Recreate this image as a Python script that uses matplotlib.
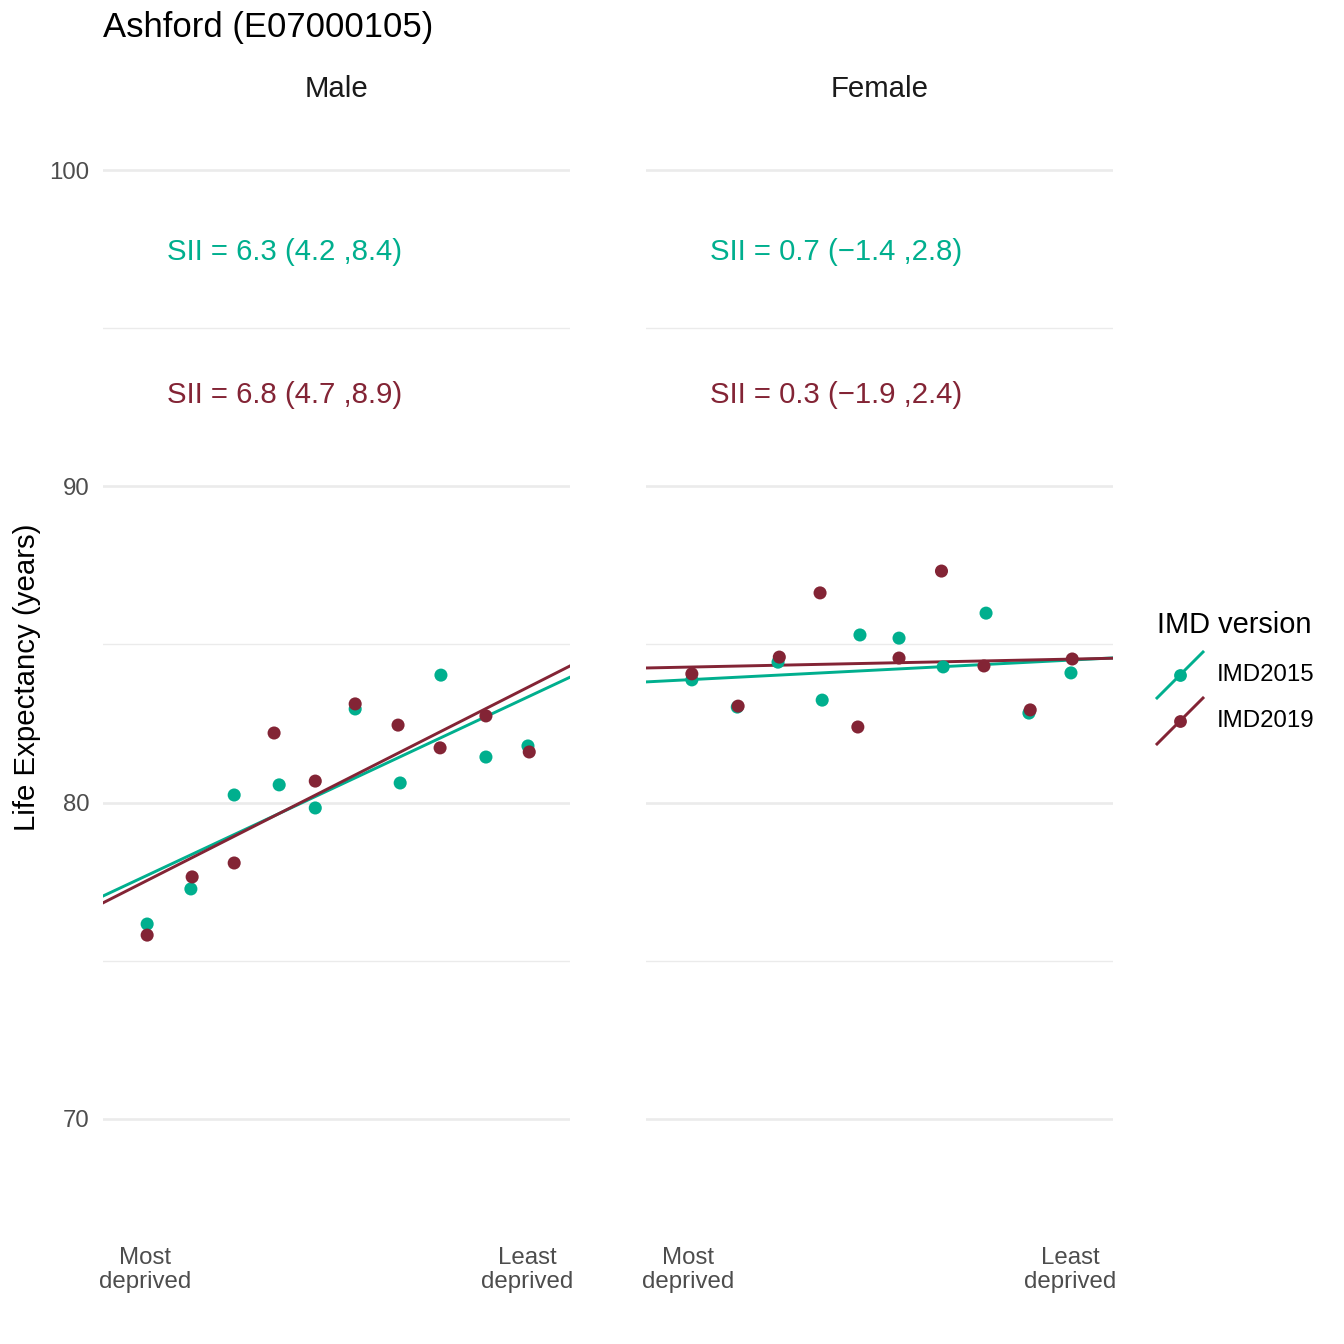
import matplotlib
matplotlib.use('Agg')
import matplotlib.pyplot as plt
from matplotlib.lines import Line2D

plt.rcParams['font.family'] = ['Liberation Sans', 'DejaVu Sans']

# --- data ---
sexes = ["Male", "Female"]
versions = ["IMD2015", "IMD2019"]
colours = {"IMD2015": "#00AF8E", "IMD2019": "#832435"}

# x = position on deprivation scale (0 = most deprived, 1 = least deprived)
male_x_2015 = [0.054, 0.157, 0.259, 0.365, 0.450, 0.544, 0.650, 0.746, 0.852, 0.951]
male_y_2015 = [76.16, 77.27, 80.24, 80.56, 79.83, 82.96, 80.62, 84.03, 81.44, 81.79]
male_x_2019 = [0.054, 0.160, 0.259, 0.353, 0.450, 0.544, 0.645, 0.744, 0.852, 0.954]
male_y_2019 = [75.81, 77.65, 78.09, 82.20, 80.68, 83.12, 82.45, 81.73, 82.74, 81.60]

female_x_2015 = [0.058, 0.165, 0.261, 0.365, 0.454, 0.546, 0.650, 0.751, 0.852, 0.951]
female_y_2015 = [83.88, 83.02, 84.44, 83.24, 85.30, 85.20, 84.29, 85.99, 82.83, 84.10]
female_x_2019 = [0.058, 0.167, 0.264, 0.360, 0.449, 0.546, 0.646, 0.746, 0.855, 0.954]
female_y_2019 = [84.07, 83.05, 84.60, 86.63, 82.39, 84.57, 87.32, 84.32, 82.93, 84.54]

# fitted lines: intercept at x=0 and slope (= SII)
male_fit = {"IMD2015": (77.36, 6.29), "IMD2019": (77.17, 6.81)}
female_fit = {"IMD2015": (83.85, 0.69), "IMD2019": (84.27, 0.28)}

male_labels = {"IMD2015": "SII = 6.3 (4.2 ,8.4)", "IMD2019": "SII = 6.8 (4.7 ,8.9)"}
female_labels = {"IMD2015": "SII = 0.7 (\u22121.4 ,2.8)", "IMD2019": "SII = 0.3 (\u22121.9 ,2.4)"}
label_y = {"IMD2015": 97.4, "IMD2019": 92.9}

x_ticks = [0.05, 0.95]
x_ticklabels = ["Most\ndeprived", "Least\ndeprived"]
y_major = [70, 80, 90, 100]
y_minor = [75, 85, 95]

panels = {
    "Male": {"IMD2015": (male_x_2015, male_y_2015), "IMD2019": (male_x_2019, male_y_2019),
             "fit": male_fit, "labels": male_labels},
    "Female": {"IMD2015": (female_x_2015, female_y_2015), "IMD2019": (female_x_2019, female_y_2019),
               "fit": female_fit, "labels": female_labels},
}

W = 1344.0
fig = plt.figure(figsize=(7, 7), dpi=192)
lefts = [103 / W, 646 / W]
bottom = 1 - 1240 / W
height = (1240 - 115) / W
width = 467 / W

xlim = (-0.05, 1.05)
ylim = (66.17, 101.74)

for i, sex in enumerate(sexes):
    ax = fig.add_axes([lefts[i], bottom, width, height])
    p = panels[sex]
    for y in y_major:
        ax.axhline(y, color="#EBEBEB", lw=1.0, zorder=0)
    for y in y_minor:
        ax.axhline(y, color="#EBEBEB", lw=0.5, zorder=0)
    for v in versions:
        xs, ys = p[v]
        ax.scatter(xs, ys, s=24, color=colours[v], edgecolors="none", zorder=3)
        a, b = p["fit"][v]
        ax.plot(list(xlim), [a + b * xlim[0], a + b * xlim[1]], color=colours[v], lw=1.1, zorder=2)
        ax.text(0.1, label_y[v], p["labels"][v], color=colours[v], fontsize=11,
                ha="left", va="center")
    ax.set_xlim(*xlim)
    ax.set_ylim(*ylim)
    ax.set_xticks(x_ticks)
    ax.set_xticklabels(x_ticklabels, linespacing=1.15)
    ax.set_yticks(y_major)
    if i == 0:
        ax.set_yticklabels([str(y) for y in y_major])
    else:
        ax.set_yticklabels([])
    ax.tick_params(axis="y", length=0, labelsize=9, labelcolor="#4D4D4D", pad=5)
    ax.tick_params(axis="x", length=0, labelsize=9, labelcolor="#4D4D4D", pad=2.5)
    for s in ax.spines.values():
        s.set_visible(False)
    # facet strip label
    fig.text(lefts[i] + width / 2, 1 - 89 / W, sex, fontsize=11, color="#1A1A1A",
             ha="center", va="center")

fig.text(103 / W, 1 - 28 / W, "Ashford (E07000105)", fontsize=13, ha="left", va="center")
fig.text(27 / W, 1 - 677 / W, "Life Expectancy (years)", fontsize=11, rotation=90,
         ha="center", va="center")

# legend
fig.text(1157 / W, 1 - 625 / W, "IMD version", fontsize=10.9, ha="left", va="center")
for k, v in enumerate(versions):
    cy = 675 + 46 * k
    fig.lines.append(Line2D([1157 / W, 1203 / W], [1 - (cy + 23) / W, 1 - (cy - 23) / W],
                            transform=fig.transFigure, color=colours[v], lw=1.1))
    fig.lines.append(Line2D([1180 / W], [1 - cy / W], transform=fig.transFigure,
                            marker="o", markersize=4.8, color=colours[v], markeredgewidth=0))
    fig.text(1217 / W, 1 - cy / W, v, fontsize=9, ha="left", va="center")

fig.savefig("out.png", dpi=192)
